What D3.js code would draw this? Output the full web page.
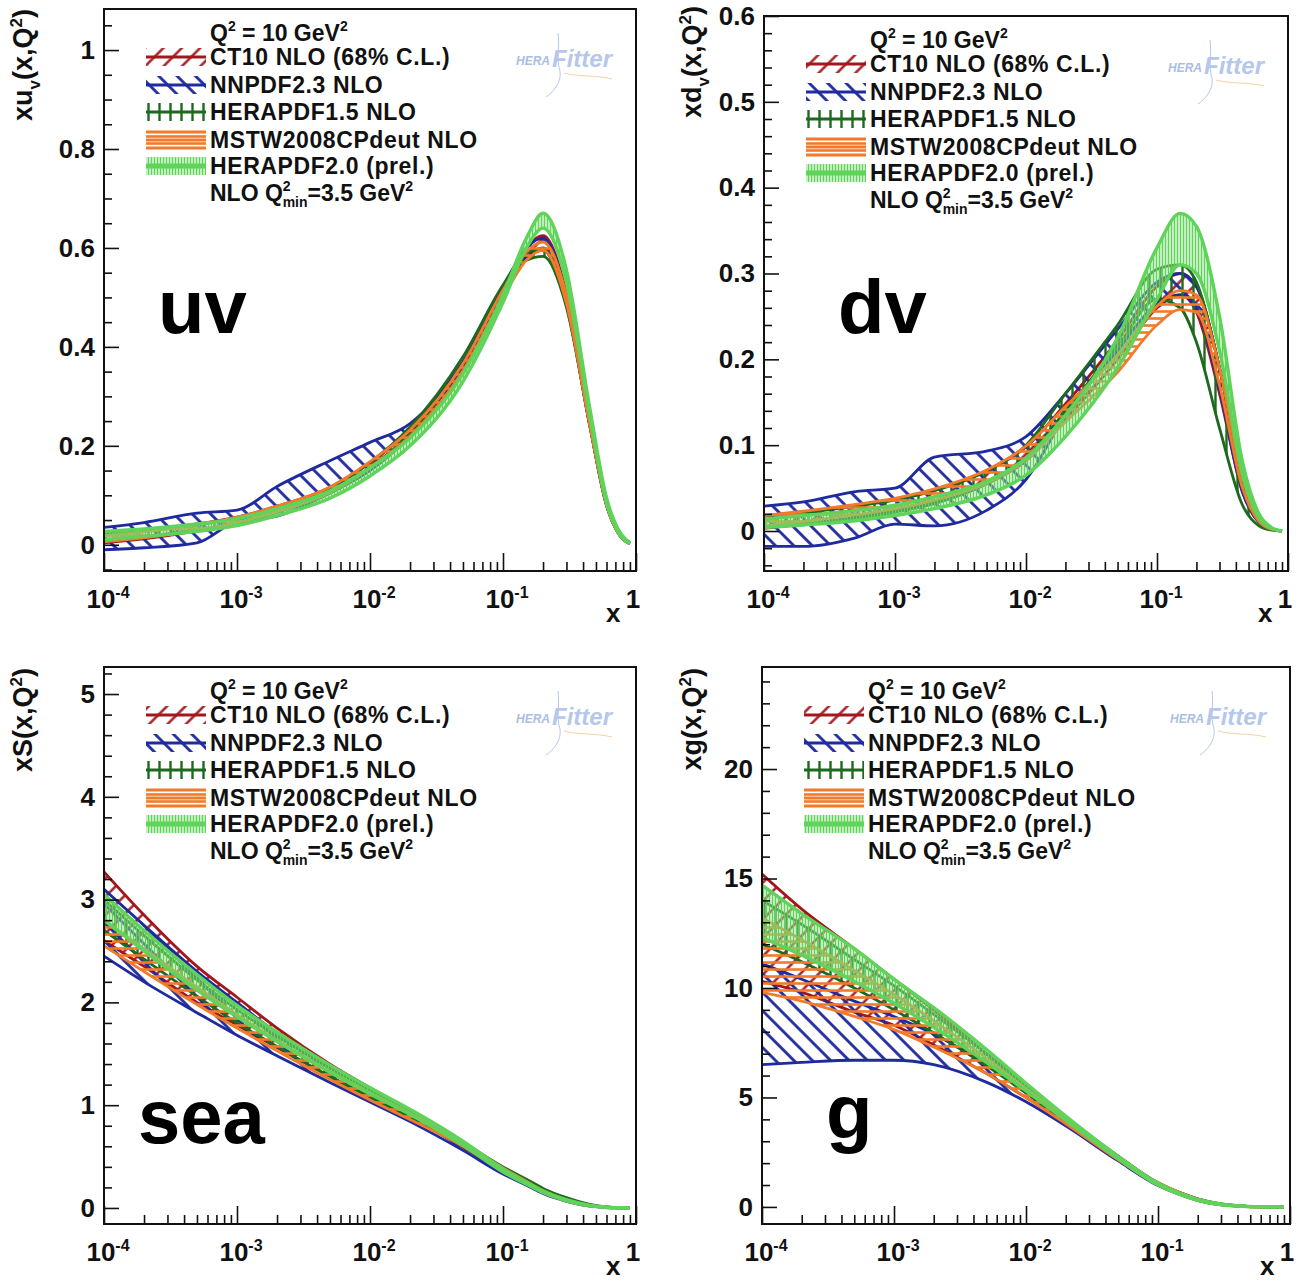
<!DOCTYPE html>
<html>
<head>
<meta charset="utf-8">
<script src="https://cdn.jsdelivr.net/npm/d3@7"></script>
<style>
  body { margin: 0; background: #fff; }
  text { font-family: "Liberation Sans", Arial, Helvetica, sans-serif; font-weight: bold; fill: #111; }
</style>
</head>
<body>
<svg id="chart" width="1298" height="1281"></svg>
<script>
// PDF comparison at Q2 = 10 GeV2 : uv, dv, sea, gluon

const xGrid = [1e-4, 2e-4, 5e-4, 1e-3, 2e-3, 5e-3, 1e-2, 2e-2, 5e-2, 0.1, 0.15, 0.2, 0.3, 0.45, 0.6, 0.75, 0.9];

const pdfSets = ['CT10 NLO (68% C.L.)', 'NNPDF2.3 NLO', 'HERAPDF1.5 NLO', 'MSTW2008CPdeut NLO', 'HERAPDF2.0 (prel.)'];

// --- xu_v ---
const uvCT10Lo = [0.004, 0.012, 0.028, 0.044, 0.067, 0.106, 0.156, 0.222, 0.355, 0.505, 0.58, 0.6, 0.49, 0.24, 0.08, 0.02, 0.002];
const uvCT10Hi = [0.022, 0.029, 0.042, 0.056, 0.078, 0.116, 0.166, 0.232, 0.368, 0.52, 0.6, 0.625, 0.51, 0.255, 0.09, 0.026, 0.004];
const uvNNLo = [-0.01, -0.006, 0.004, 0.048, 0.058, 0.105, 0.15, 0.22, 0.355, 0.505, 0.58, 0.595, 0.485, 0.24, 0.08, 0.02, 0.002];
const uvNNHi = [0.035, 0.045, 0.064, 0.07, 0.118, 0.17, 0.207, 0.245, 0.37, 0.52, 0.6, 0.62, 0.505, 0.255, 0.09, 0.025, 0.004];
const uvH15Lo = [0.01, 0.017, 0.03, 0.045, 0.066, 0.104, 0.155, 0.225, 0.365, 0.51, 0.575, 0.583, 0.48, 0.24, 0.08, 0.02, 0.002];
const uvH15Hi = [0.022, 0.028, 0.04, 0.054, 0.076, 0.114, 0.166, 0.238, 0.38, 0.525, 0.59, 0.598, 0.495, 0.25, 0.088, 0.025, 0.004];
const uvMSLo = [0.006, 0.014, 0.029, 0.045, 0.067, 0.106, 0.156, 0.22, 0.352, 0.5, 0.575, 0.595, 0.488, 0.24, 0.08, 0.02, 0.002];
const uvMSHi = [0.018, 0.026, 0.041, 0.056, 0.078, 0.117, 0.168, 0.232, 0.366, 0.515, 0.592, 0.612, 0.505, 0.255, 0.09, 0.025, 0.004];
const uvH20Lo = [0.01, 0.017, 0.027, 0.039, 0.059, 0.094, 0.139, 0.2, 0.33, 0.49, 0.6, 0.64, 0.53, 0.26, 0.085, 0.021, 0.002];
const uvH20Hi = [0.027, 0.032, 0.042, 0.053, 0.073, 0.109, 0.156, 0.216, 0.346, 0.505, 0.62, 0.67, 0.555, 0.275, 0.095, 0.027, 0.004];

// --- xd_v ---
const dvCT10Lo = [0.003, 0.008, 0.016, 0.024, 0.034, 0.055, 0.082, 0.13, 0.2, 0.26, 0.275, 0.255, 0.16, 0.045, 0.01, 0.002, 0];
const dvCT10Hi = [0.018, 0.022, 0.03, 0.037, 0.048, 0.07, 0.098, 0.148, 0.222, 0.285, 0.3, 0.285, 0.19, 0.06, 0.015, 0.003, 0];
const dvNNLo = [-0.018, -0.018, -0.008, 0.008, 0.006, 0.024, 0.06, 0.135, 0.21, 0.265, 0.275, 0.26, 0.165, 0.045, 0.01, 0.002, 0];
const dvNNHi = [0.029, 0.034, 0.046, 0.05, 0.086, 0.093, 0.11, 0.16, 0.235, 0.29, 0.3, 0.285, 0.19, 0.06, 0.015, 0.003, 0];
const dvH15Lo = [0.004, 0.008, 0.015, 0.022, 0.032, 0.055, 0.085, 0.14, 0.215, 0.27, 0.26, 0.22, 0.12, 0.03, 0.006, 0.001, 0];
const dvH15Hi = [0.016, 0.021, 0.029, 0.036, 0.047, 0.07, 0.1, 0.16, 0.24, 0.305, 0.31, 0.29, 0.19, 0.058, 0.014, 0.002, 0];
const dvMSLo = [0.006, 0.011, 0.019, 0.026, 0.036, 0.056, 0.083, 0.127, 0.185, 0.24, 0.258, 0.255, 0.17, 0.05, 0.011, 0.002, 0];
const dvMSHi = [0.018, 0.023, 0.031, 0.038, 0.049, 0.071, 0.099, 0.145, 0.205, 0.262, 0.28, 0.275, 0.19, 0.062, 0.015, 0.003, 0];
const dvH20Lo = [0.004, 0.007, 0.012, 0.018, 0.026, 0.042, 0.065, 0.11, 0.19, 0.27, 0.31, 0.3, 0.21, 0.065, 0.015, 0.003, 0];
const dvH20Hi = [0.014, 0.018, 0.024, 0.03, 0.04, 0.058, 0.085, 0.135, 0.225, 0.33, 0.37, 0.355, 0.25, 0.08, 0.02, 0.004, 0];

// --- xS (sea) ---
const seaCT10Lo = [2.6, 2.35, 2.0, 1.78, 1.56, 1.28, 1.08, 0.88, 0.59, 0.35, 0.23, 0.15, 0.07, 0.02, 0.005, 0.001, 0];
const seaCT10Hi = [3.27, 2.85, 2.35, 2.05, 1.75, 1.4, 1.17, 0.95, 0.64, 0.38, 0.26, 0.17, 0.085, 0.028, 0.008, 0.002, 0];
const seaNNLo = [2.45, 2.2, 1.9, 1.68, 1.48, 1.22, 1.03, 0.84, 0.56, 0.33, 0.22, 0.14, 0.065, 0.018, 0.004, 0.001, 0];
const seaNNHi = [3.1, 2.75, 2.3, 2.0, 1.7, 1.36, 1.13, 0.92, 0.62, 0.37, 0.25, 0.165, 0.08, 0.025, 0.007, 0.002, 0];
const seaH15Lo = [2.7, 2.42, 2.06, 1.8, 1.57, 1.28, 1.08, 0.88, 0.6, 0.36, 0.25, 0.17, 0.085, 0.025, 0.006, 0.001, 0];
const seaH15Hi = [3.0, 2.65, 2.22, 1.93, 1.67, 1.36, 1.14, 0.93, 0.64, 0.4, 0.28, 0.19, 0.1, 0.035, 0.01, 0.002, 0];
const seaMSLo = [2.55, 2.3, 1.98, 1.75, 1.53, 1.25, 1.05, 0.86, 0.6, 0.36, 0.24, 0.15, 0.07, 0.02, 0.005, 0.001, 0];
const seaMSHi = [2.8, 2.52, 2.15, 1.88, 1.63, 1.33, 1.12, 0.92, 0.64, 0.39, 0.26, 0.17, 0.08, 0.025, 0.007, 0.002, 0];
const seaH20Lo = [2.8, 2.5, 2.12, 1.86, 1.62, 1.32, 1.11, 0.91, 0.61, 0.35, 0.23, 0.15, 0.07, 0.02, 0.005, 0.001, 0];
const seaH20Hi = [3.05, 2.7, 2.27, 1.97, 1.71, 1.39, 1.17, 0.96, 0.65, 0.38, 0.25, 0.165, 0.08, 0.025, 0.007, 0.002, 0];

// --- xg (gluon) ---
const gCT10Lo = [10.3, 9.8, 8.9, 8.3, 7.4, 6.1, 5.0, 3.85, 2.15, 1.0, 0.55, 0.3, 0.1, 0.025, 0.005, 0, 0];
const gCT10Hi = [15.2, 13.6, 11.8, 10.4, 9.0, 7.0, 5.5, 4.1, 2.3, 1.1, 0.62, 0.36, 0.13, 0.035, 0.008, 0.001, 0];
const gNNLo = [6.5, 6.6, 6.7, 6.7, 6.5, 5.7, 4.8, 3.7, 2.1, 0.98, 0.55, 0.3, 0.1, 0.025, 0.005, 0, 0];
const gNNHi = [11.1, 10.4, 9.4, 8.7, 7.9, 6.5, 5.3, 4.0, 2.25, 1.08, 0.62, 0.36, 0.13, 0.035, 0.008, 0.001, 0];
const gH15Lo = [12.0, 11.2, 10.0, 9.0, 7.95, 6.45, 5.2, 3.9, 2.2, 1.02, 0.57, 0.32, 0.11, 0.028, 0.006, 0.001, 0];
const gH15Hi = [14.0, 12.9, 11.3, 10.1, 8.8, 7.0, 5.55, 4.1, 2.32, 1.1, 0.63, 0.37, 0.14, 0.038, 0.009, 0.002, 0];
const gMSLo = [9.8, 9.4, 8.7, 8.1, 7.3, 6.1, 5.0, 3.8, 2.15, 1.02, 0.57, 0.32, 0.11, 0.028, 0.006, 0.001, 0];
const gMSHi = [13.2, 12.2, 10.8, 9.7, 8.5, 6.8, 5.4, 4.05, 2.3, 1.1, 0.63, 0.36, 0.13, 0.035, 0.008, 0.001, 0];
const gH20Lo = [12.3, 11.5, 10.3, 9.3, 8.2, 6.6, 5.3, 3.95, 2.2, 1.0, 0.55, 0.3, 0.1, 0.025, 0.005, 0, 0];
const gH20Hi = [14.7, 13.4, 11.8, 10.4, 9.1, 7.2, 5.65, 4.15, 2.3, 1.08, 0.6, 0.34, 0.12, 0.032, 0.007, 0.001, 0];

const xDecades = [1e-4, 1e-3, 1e-2, 1e-1, 1];

const colors = ['#a3161c', '#1f2a9e', '#1d6a1f', '#f27a2a', '#5fd35a'];

const panels = [
    { name: 'uv', x0: 104, x1: 636, y0: 9, y1: 571, yDom: [-0.053, 1.083], major: 0.2, minor: 0.05,
      title: [['xu', ''], ['v', 'sub'], ['(x,Q', ''], ['2', 'sup'], [')', '']], tx: 32, ty: 9,
      bigX: 158, bigY: 333,
      bands: [[uvCT10Lo, uvCT10Hi], [uvNNLo, uvNNHi], [uvH15Lo, uvH15Hi], [uvMSLo, uvMSHi], [uvH20Lo, uvH20Hi]] },
    { name: 'dv', x0: 764, x1: 1288, y0: 16, y1: 571, yDom: [-0.0466, 0.6], major: 0.1, minor: 0.02,
      title: [['xd', ''], ['v', 'sub'], ['(x,Q', ''], ['2', 'sup'], [')', '']], tx: 701, ty: 6,
      bigX: 838, bigY: 333,
      bands: [[dvCT10Lo, dvCT10Hi], [dvNNLo, dvNNHi], [dvH15Lo, dvH15Hi], [dvMSLo, dvMSHi], [dvH20Lo, dvH20Hi]] },
    { name: 'sea', x0: 104, x1: 636, y0: 667, y1: 1224, yDom: [-0.156, 5.263], major: 1, minor: 0.2,
      title: [['xS(x,Q', ''], ['2', 'sup'], [')', '']], tx: 32, ty: 668,
      bigX: 138, bigY: 1143,
      bands: [[seaCT10Lo, seaCT10Hi], [seaNNLo, seaNNHi], [seaH15Lo, seaH15Hi], [seaMSLo, seaMSHi], [seaH20Lo, seaH20Hi]] },
    { name: 'g', x0: 762, x1: 1290, y0: 667, y1: 1224, yDom: [-0.78, 24.66], major: 5, minor: 1,
      title: [['xg(x,Q', ''], ['2', 'sup'], [')', '']], tx: 701, ty: 668,
      bigX: 826, bigY: 1138,
      bands: [[gCT10Lo, gCT10Hi], [gNNLo, gNNHi], [gH15Lo, gH15Hi], [gMSLo, gMSHi], [gH20Lo, gH20Hi]] }
];

const svg = d3.select('#chart');
const defs = svg.append('defs');

// ROOT-like hatch styles
const hatches = [
    { id: 'hCT10', rot: 45, gap: 13, w: 2.4 },
    { id: 'hNN', rot: -45, gap: 13, w: 2.8 },
    { id: 'hH15', rot: 0, gap: 11, w: 2.4 },
    { id: 'hMS', rot: 90, gap: 7, w: 2.6 },
    { id: 'hH20', rot: 0, gap: 3, w: 1.1 }
];
hatches.forEach((h, i) => {
    let pat = defs.append('pattern')
        .attr('id', h.id)
        .attr('patternUnits', 'userSpaceOnUse')
        .attr('width', h.gap).attr('height', h.gap)
        .attr('patternTransform', `rotate(${h.rot})`);
    pat.append('line')
        .attr('x1', h.gap / 2).attr('x2', h.gap / 2)
        .attr('y1', 0).attr('y2', h.gap)
        .attr('stroke', colors[i])
        .attr('stroke-width', h.w);
});

function addRich(sel, parts, small) {
    let shift = 0;
    parts.forEach(([t, mode]) => {
        let target = mode == 'sub' ? 8 : mode == 'sup' ? -10 : 0;
        let ts = sel.append('tspan').attr('dy', target - shift).text(t);
        if (mode) ts.attr('font-size', small);
        shift = target;
    });
    if (shift) sel.append('tspan').attr('dy', -shift).text('');
}

panels.forEach((p, pi) => {
    let x = d3.scaleLog().domain([1e-4, 1]).range([p.x0, p.x1]);
    let y = d3.scaleLinear().domain(p.yDom).range([p.y1, p.y0]);

    let g = svg.append('g').attr('class', 'panel-' + p.name);

    svg.select('defs').append('clipPath').attr('id', 'clip' + pi)
        .append('rect')
        .attr('x', p.x0).attr('y', p.y0)
        .attr('width', p.x1 - p.x0).attr('height', p.y1 - p.y0);

    // bands
    let bandG = g.append('g').attr('clip-path', `url(#clip${pi})`);
    let area = d3.area()
        .x((d, i) => x(xGrid[i]))
        .y0(d => y(d[0]))
        .y1(d => y(d[1]))
        .curve(d3.curveMonotoneX);
    let line = d3.line()
        .x((d, i) => x(xGrid[i]))
        .y(d => y(d))
        .curve(d3.curveMonotoneX);

    p.bands.forEach(([lo, hi], si) => {
        let pairs = lo.map((v, i) => [v, hi[i]]);
        if (si == 4) {
            bandG.append('path').attr('d', area(pairs))
                .attr('fill', '#8fe28a').attr('fill-opacity', 0.5);
        }
        bandG.append('path').attr('d', area(pairs))
            .attr('fill', `url(#${hatches[si].id})`);
        [lo, hi].forEach(edge => {
            bandG.append('path').attr('d', line(edge))
                .attr('fill', 'none')
                .attr('stroke', colors[si])
                .attr('stroke-width', si == 4 ? 3.4 : 2.8);
        });
    });

    // frame
    g.append('rect')
        .attr('x', p.x0).attr('y', p.y0)
        .attr('width', p.x1 - p.x0).attr('height', p.y1 - p.y0)
        .attr('fill', 'none').attr('stroke', '#111').attr('stroke-width', 2);

    // y axis
    let majors = d3.range(0, p.yDom[1] + 1e-6, p.major);
    let minors = d3.range(Math.ceil(p.yDom[0] / p.minor) * p.minor, p.yDom[1], p.minor)
        .filter(v => Math.abs(v / p.major - Math.round(v / p.major)) > 1e-6);

    let yAxis = g.append('g')
        .attr('transform', `translate(${p.x0},0)`)
        .call(d3.axisLeft(y).tickValues(majors).tickSize(-15).tickPadding(9)
            .tickFormat(d => +d.toFixed(2) + ''));
    g.append('g')
        .attr('transform', `translate(${p.x0},0)`)
        .call(d3.axisLeft(y).tickValues(minors).tickSize(-8).tickFormat(''));

    // x axis
    let xMinor = x.ticks().filter(v => Math.abs(Math.log10(v) - Math.round(Math.log10(v))) > 1e-6);
    g.append('g')
        .attr('transform', `translate(0,${p.y1})`)
        .call(d3.axisBottom(x).tickValues(xDecades).tickSize(-18).tickFormat(''));
    g.append('g')
        .attr('transform', `translate(0,${p.y1})`)
        .call(d3.axisBottom(x).tickValues(xMinor).tickSize(-9).tickFormat(''));

    g.selectAll('.domain').remove();
    g.selectAll('.tick line').attr('stroke', '#111').attr('stroke-width', 1.6);
    yAxis.selectAll('text')
        .attr('font-size', 26)
        .attr('font-family', '"Liberation Sans", Arial, sans-serif')
        .attr('font-weight', 'bold')
        .attr('fill', '#111');

    g.selectAll('.xlab')
        .data(xDecades)
        .join('text')
        .classed('xlab', true)
        .attr('x', d => d == 1 ? x(d) - 3 : x(d) + 4)
        .attr('y', p.y1 + 37)
        .attr('text-anchor', 'middle')
        .attr('font-size', 26)
        .each(function(d) {
            let t = d3.select(this);
            if (d == 1) { t.text('1'); return; }
            addRich(t, [['10', ''], [String(Math.round(Math.log10(d))), 'sup']], 16);
        });

    g.append('text')
        .attr('x', p.x1 - 30).attr('y', p.y1 + 51)
        .attr('font-size', 26)
        .text('x');

    // y axis title
    let yt = g.append('text')
        .attr('transform', `translate(${p.tx},${p.ty}) rotate(-90)`)
        .attr('text-anchor', 'end')
        .attr('font-size', 27);
    addRich(yt, p.title, 17);

    // legend
    let lx = p.x0 + 106;
    let legRows = [p.y0 + 48, p.y0 + 76, p.y0 + 103, p.y0 + 131, p.y0 + 157];
    let q = g.append('text').attr('x', lx).attr('y', p.y0 + 32).attr('font-size', 23);
    addRich(q, [['Q', ''], ['2', 'sup'], [' = 10 GeV', ''], ['2', 'sup']], 14);

    legRows.forEach((cy, si) => {
        let sx = p.x0 + 42;
        if (si == 4) {
            g.append('rect').attr('x', sx).attr('y', cy - 9).attr('width', 60).attr('height', 18)
                .attr('fill', '#8fe28a').attr('fill-opacity', 0.5);
        }
        g.append('rect').attr('x', sx).attr('y', cy - 9).attr('width', 60).attr('height', 18)
            .attr('fill', `url(#${hatches[si].id})`);
        if (si == 3) {
            [-8, 0, 8].forEach(o => g.append('line')
                .attr('x1', sx).attr('x2', sx + 60).attr('y1', cy + o).attr('y2', cy + o)
                .attr('stroke', colors[3]).attr('stroke-width', 3));
        } else {
            g.append('line').attr('x1', sx).attr('x2', sx + 60).attr('y1', cy).attr('y2', cy)
                .attr('stroke', colors[si]).attr('stroke-width', si == 4 ? 5 : 3);
        }
        g.append('text').attr('x', lx).attr('y', cy + 8).attr('font-size', 23)
            .attr('letter-spacing', 0.6).text(pdfSets[si]);
    });

    let nlo = g.append('text').attr('x', lx).attr('y', p.y0 + 192).attr('font-size', 23);
    nlo.append('tspan').text('NLO Q');
    nlo.append('tspan').attr('dy', -10).attr('font-size', 14).text('2');
    nlo.append('tspan').attr('dx', -8).attr('dy', 16).attr('font-size', 14).text('min');
    nlo.append('tspan').attr('dy', -6).text('=3.5 GeV');
    nlo.append('tspan').attr('dy', -10).attr('font-size', 14).text('2');

    // HERAFitter logo (faint)
    let lg = g.append('g').attr('transform', `translate(${p.x1 - 120},${p.y0 + 22})`).attr('opacity', 0.75);
    lg.append('path')
        .attr('d', 'M42,2 C44,14 40,28 44,40 C46,52 36,62 30,66')
        .attr('fill', 'none').attr('stroke', '#9fb6e0').attr('stroke-width', 1);
    lg.append('path')
        .attr('d', 'M48,42 C62,46 80,44 96,48')
        .attr('fill', 'none').attr('stroke', '#f0c58a').attr('stroke-width', 1);
    lg.append('text').attr('x', 0).attr('y', 34)
        .attr('font-size', 12).attr('font-style', 'italic').attr('font-weight', 'normal')
        .style('fill', '#8ea9da').text('HERA');
    lg.append('text').attr('x', 36).attr('y', 36)
        .attr('font-size', 24).attr('font-style', 'italic').attr('font-weight', 'normal')
        .style('fill', '#9db5e3').text('Fitter');

    // big panel label
    g.append('text')
        .attr('x', p.bigX).attr('y', p.bigY)
        .attr('font-size', 76)
        .style('fill', '#000')
        .text(p.name);
});
</script>
</body>
</html>
